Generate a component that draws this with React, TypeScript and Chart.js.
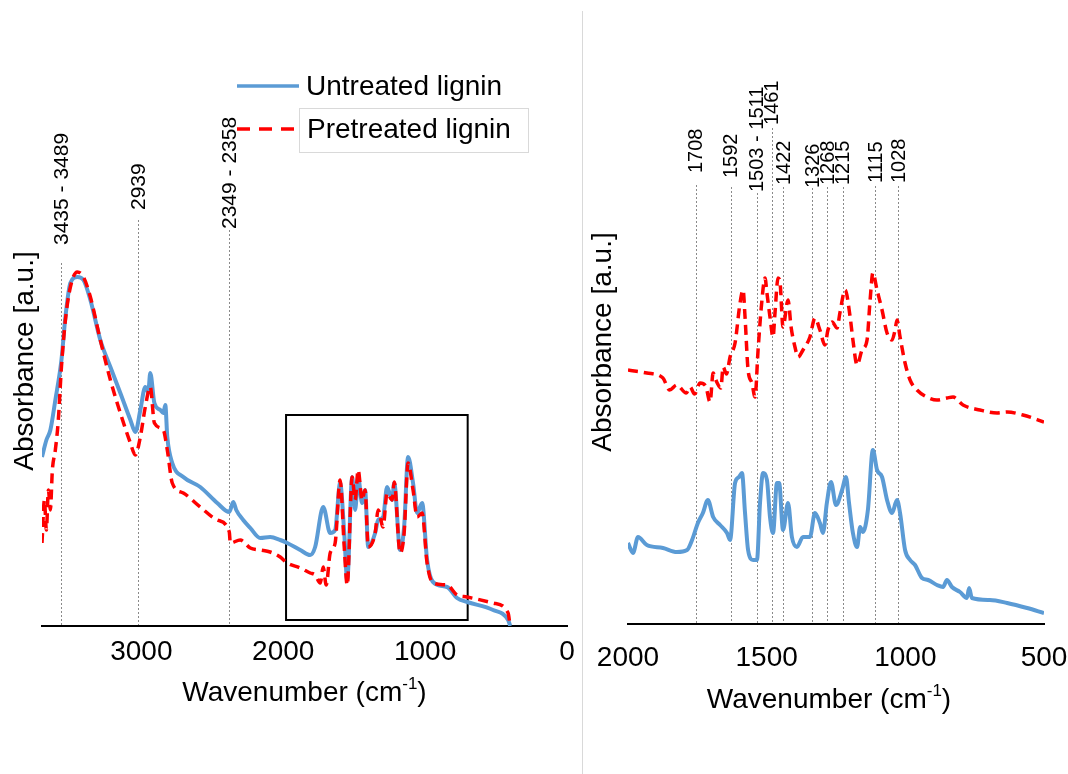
import React, { useEffect, useRef } from "react";
import { Chart, registerables } from "chart.js";

Chart.register(...registerables);

const FONT = '"Liberation Sans", Arial, Helvetica, sans-serif';
const BLUE = "#5B9BD5";
const RED = "#FF0000";

// ---------- data ----------
const seriesNames = ["Untreated lignin", "Pretreated lignin"];
const xTitleMain = "Wavenumber (cm";
const xTitleSup = "-1";
const xTitleEnd = ")";
const yTitle = "Absorbance [a.u.]";

// Left panel (full spectrum)
const fullTicks = [3000, 2000, 1000, 0];
const fullUntreatedWn = [3700, 3669, 3641, 3606, 3563, 3535, 3500, 3451, 3408, 3359, 3289, 3218, 3148, 3077, 3042, 3007, 2972, 2951, 2937, 2908, 2866, 2845, 2831, 2817, 2782, 2704, 2585, 2465, 2380, 2352, 2331, 2282, 2232, 2162, 2092, 2021, 1972, 1880, 1810, 1775, 1718, 1669, 1634, 1599, 1570, 1549, 1514, 1493, 1472, 1444, 1423, 1401, 1352, 1331, 1296, 1268, 1232, 1218, 1176, 1148, 1120, 1085, 1056, 1021, 986, 944, 845, 775, 704, 521, 415, 400];
const fullUntreatedAbs = [1.69, 1.86, 1.96, 2.26, 2.66, 3.09, 3.43, 3.49, 3.46, 3.26, 2.86, 2.59, 2.33, 2.06, 1.94, 2.16, 2.39, 2.34, 2.53, 2.23, 2.16, 2.13, 2.21, 1.89, 1.63, 1.49, 1.39, 1.23, 1.14, 1.24, 1.16, 1.06, 0.98, 0.88, 0.89, 0.86, 0.83, 0.76, 0.71, 0.79, 1.19, 0.93, 0.96, 1.43, 0.93, 0.46, 1.49, 1.16, 1.49, 1.23, 1.36, 0.79, 0.93, 1.06, 1.09, 1.39, 1.26, 1.43, 0.76, 0.99, 1.69, 1.43, 1.13, 1.23, 0.66, 0.44, 0.39, 0.28, 0.24, 0.16, 0.06, 0.0];
const fullPretreatedWn = [3700, 3683, 3669, 3655, 3641, 3627, 3606, 3585, 3563, 3535, 3500, 3451, 3408, 3359, 3289, 3218, 3148, 3077, 3042, 3007, 2972, 2937, 2908, 2845, 2817, 2782, 2704, 2585, 2465, 2380, 2373, 2303, 2232, 2162, 2092, 2021, 1972, 1880, 1810, 1775, 1739, 1718, 1697, 1669, 1634, 1599, 1570, 1549, 1514, 1493, 1472, 1444, 1423, 1401, 1352, 1331, 1296, 1268, 1232, 1218, 1176, 1148, 1120, 1085, 1056, 1021, 986, 944, 845, 775, 704, 521, 415, 401];
const fullPretreatedAbs = [0.83, 1.26, 0.96, 1.36, 1.16, 1.56, 1.76, 2.06, 2.59, 3.06, 3.39, 3.54, 3.49, 3.29, 2.86, 2.46, 2.13, 1.83, 1.71, 1.89, 2.19, 2.39, 2.03, 1.96, 1.76, 1.43, 1.33, 1.19, 1.06, 0.94, 0.83, 0.86, 0.78, 0.76, 0.74, 0.69, 0.63, 0.58, 0.53, 0.51, 0.43, 0.59, 0.41, 0.73, 0.83, 1.46, 0.79, 0.41, 1.49, 1.26, 1.56, 1.26, 1.36, 0.79, 0.93, 1.16, 0.99, 1.33, 1.26, 1.44, 0.73, 0.93, 1.63, 1.36, 1.09, 1.13, 0.63, 0.43, 0.41, 0.31, 0.29, 0.23, 0.13, 0.0];
const fullMarkerWn = [3563, 3021, 2380];
const fullMarkerLabels = ["3435 - 3489", "2939", "2349 - 2358"];
// framed region of the left panel [wnFrom, wnTo, absLow, absHigh]
const fullFrame = [1980, 700, 0.06, 2.11];

// Right panel (fingerprint region)
const zoomTicks = [2000, 1500, 1000, 500];
const zoomUntreatedWn = [2000, 1982, 1964, 1932, 1874, 1824, 1787, 1769, 1748, 1730, 1712, 1693, 1668, 1643, 1632, 1614, 1600, 1589, 1578, 1567, 1549, 1535, 1524, 1513, 1499, 1488, 1477, 1463, 1455, 1441, 1423, 1409, 1391, 1369, 1344, 1326, 1308, 1297, 1283, 1268, 1250, 1228, 1214, 1203, 1189, 1174, 1163, 1153, 1135, 1117, 1102, 1084, 1066, 1048, 1030, 1019, 1001, 983, 965, 940, 918, 886, 864, 850, 832, 803, 778, 770, 760, 695, 633, 561, 500];
const zoomUntreatedAbs = [0.81, 0.71, 0.87, 0.79, 0.76, 0.72, 0.74, 0.84, 1.01, 1.11, 1.24, 1.07, 0.99, 0.91, 0.84, 1.41, 1.47, 1.51, 1.11, 0.74, 0.64, 0.64, 1.21, 1.51, 1.44, 1.07, 0.91, 1.41, 1.41, 0.94, 1.21, 0.87, 0.77, 0.87, 0.87, 1.11, 1.01, 0.91, 1.21, 1.42, 1.19, 1.34, 1.47, 1.21, 0.91, 0.77, 0.97, 0.92, 1.14, 1.74, 1.54, 1.47, 1.24, 1.11, 1.24, 1.11, 0.74, 0.64, 0.59, 0.46, 0.44, 0.39, 0.37, 0.44, 0.37, 0.32, 0.26, 0.36, 0.26, 0.24, 0.21, 0.16, 0.11];
const zoomPretreatedWn = [2000, 1932, 1874, 1850, 1824, 1790, 1776, 1760, 1740, 1720, 1704, 1693, 1680, 1665, 1657, 1645, 1632, 1614, 1596, 1585, 1578, 1567, 1553, 1542, 1531, 1517, 1506, 1499, 1488, 1477, 1470, 1459, 1452, 1441, 1423, 1412, 1398, 1387, 1369, 1344, 1326, 1308, 1290, 1279, 1264, 1246, 1236, 1217, 1199, 1189, 1174, 1156, 1138, 1127, 1117, 1102, 1084, 1066, 1048, 1037, 1030, 1019, 1001, 983, 958, 922, 886, 850, 828, 792, 731, 669, 633, 576, 500];
const zoomPretreatedAbs = [2.54, 2.51, 2.46, 2.34, 2.39, 2.31, 2.37, 2.30, 2.41, 2.38, 2.22, 2.51, 2.42, 2.36, 2.57, 2.50, 2.67, 2.81, 3.21, 3.34, 3.07, 2.54, 2.41, 2.27, 2.74, 3.24, 3.46, 3.31, 3.07, 2.87, 3.11, 3.46, 3.42, 2.97, 3.24, 2.97, 2.77, 2.67, 2.74, 2.87, 3.06, 2.94, 2.79, 2.94, 3.02, 2.96, 3.11, 3.34, 3.07, 2.84, 2.59, 2.74, 2.84, 3.24, 3.51, 3.34, 3.14, 2.91, 2.84, 2.94, 3.04, 2.87, 2.61, 2.44, 2.34, 2.27, 2.24, 2.26, 2.27, 2.19, 2.14, 2.11, 2.12, 2.09, 2.02];
const zoomMarkerWn = [1755, 1629, 1535, 1481, 1441, 1336, 1282, 1225, 1109, 1026];
const zoomMarkerLabels = ["1708", "1592", "1503 - 1511", "1461", "1422", "1326", "1268", "1215", "1115", "1028"];

// ---------- layout / style ----------
type PanelCfg = {
  left: number;
  width: number;
  height: number;
  xMin: number;
  xMax: number;
  ticks: number[];
  yMax: number;
  padTop: number;
  padRight: number;
  yAxisWidth: number;
  yTitlePad: number;
  xAxisHeight: number;
  tickPad: number;
  xTitleY: number;
  xTitleShift: number;
  uWn: number[];
  uAbs: number[];
  pWn: number[];
  pAbs: number[];
  markerWn: number[];
  markerLabels: string[];
  markerLabelBottom: number[];
  markerLineTop: number[];
  markerFont: number;
  frame?: number[];
  legend?: boolean;
};

const toXY = (xs: number[], ys: number[]) => xs.map((x, i) => ({ x, y: ys[i] }));

function overlayPlugin(p: PanelCfg) {
  return {
    id: "overlay" + p.left,
    beforeDatasetsDraw(chart: any) {
      const ctx = chart.ctx as CanvasRenderingContext2D;
      const xs = chart.scales.x;
      const ys = chart.scales.y;
      const area = chart.chartArea;
      ctx.save();
      ctx.strokeStyle = "#8a8a8a";
      ctx.lineWidth = 1;
      ctx.setLineDash([2, 2]);
      p.markerWn.forEach((wn, i) => {
        const x = Math.round(xs.getPixelForValue(wn)) + 0.5;
        ctx.beginPath();
        ctx.moveTo(x, p.markerLineTop[i]);
        ctx.lineTo(x, area.bottom - 1);
        ctx.stroke();
      });
      ctx.setLineDash([]);
      if (p.frame) {
        const x1 = xs.getPixelForValue(p.frame[0]);
        const x2 = xs.getPixelForValue(p.frame[1]);
        const y1 = ys.getPixelForValue(p.frame[3]);
        const y2 = ys.getPixelForValue(p.frame[2]);
        ctx.strokeStyle = "#000";
        ctx.lineWidth = 2;
        ctx.strokeRect(x1, y1, x2 - x1, y2 - y1);
      }
      ctx.restore();
    },
    afterDraw(chart: any) {
      const ctx = chart.ctx as CanvasRenderingContext2D;
      const xs = chart.scales.x;
      const area = chart.chartArea;
      ctx.save();
      ctx.fillStyle = "#000";
      // marker labels (rotated)
      ctx.font = `${p.markerFont}px ${FONT}`;
      ctx.textAlign = "left";
      ctx.textBaseline = "middle";
      p.markerWn.forEach((wn, i) => {
        const x = xs.getPixelForValue(wn);
        ctx.save();
        ctx.translate(x, p.markerLabelBottom[i]);
        ctx.rotate(-Math.PI / 2);
        ctx.fillText(p.markerLabels[i], 0, 1);
        ctx.restore();
      });
      // x axis title with superscript
      const big = `28px ${FONT}`;
      const small = `17px ${FONT}`;
      ctx.font = big;
      const w1 = ctx.measureText(xTitleMain).width;
      const w3 = ctx.measureText(xTitleEnd).width;
      ctx.font = small;
      const w2 = ctx.measureText(xTitleSup).width;
      const total = w1 + w2 + w3;
      let sx = (area.left + area.right) / 2 + p.xTitleShift - total / 2;
      const ty = p.xTitleY;
      ctx.textBaseline = "middle";
      ctx.font = big;
      ctx.fillText(xTitleMain, sx, ty);
      sx += w1;
      ctx.font = small;
      ctx.fillText(xTitleSup, sx, ty - 9);
      sx += w2;
      ctx.font = big;
      ctx.fillText(xTitleEnd, sx, ty);
      // legend
      if (p.legend) {
        ctx.lineWidth = 3.5;
        ctx.strokeStyle = BLUE;
        ctx.beginPath();
        ctx.moveTo(237, 86);
        ctx.lineTo(299, 86);
        ctx.stroke();
        ctx.strokeStyle = RED;
        ctx.setLineDash([13, 9]);
        ctx.beginPath();
        ctx.moveTo(237, 129);
        ctx.lineTo(299, 129);
        ctx.stroke();
        ctx.setLineDash([]);
        ctx.strokeStyle = "#d9d9d9";
        ctx.lineWidth = 1;
        ctx.strokeRect(299.5, 108.5, 229, 44);
        ctx.font = `28px ${FONT}`;
        ctx.fillStyle = "#000";
        ctx.textBaseline = "middle";
        ctx.fillText(seriesNames[0], 306, 87);
        ctx.fillText(seriesNames[1], 307, 130);
      }
      ctx.restore();
    },
  };
}

function makeConfig(p: PanelCfg): any {
  return {
    type: "line",
    data: {
      datasets: [
        {
          label: seriesNames[0],
          data: toXY(p.uWn, p.uAbs),
          borderColor: BLUE,
          backgroundColor: BLUE,
          borderWidth: 4,
          pointRadius: 0,
          cubicInterpolationMode: "monotone",
          order: 2,
        },
        {
          label: seriesNames[1],
          data: toXY(p.pWn, p.pAbs),
          borderColor: RED,
          backgroundColor: RED,
          borderWidth: 3.5,
          borderDash: [10, 6],
          pointRadius: 0,
          cubicInterpolationMode: "monotone",
          order: 1,
        },
      ],
    },
    options: {
      responsive: false,
      animation: false,
      events: [],
      layout: { padding: { left: 0, right: p.padRight, top: p.padTop, bottom: 0 } },
      plugins: { legend: { display: false }, tooltip: { enabled: false }, title: { display: false } },
      scales: {
        x: {
          type: "linear",
          reverse: true,
          min: p.xMin,
          max: p.xMax,
          grid: { display: false, drawTicks: false },
          border: { display: true, color: "#000", width: 2 },
          ticks: {
            font: { family: FONT, size: 28 },
            color: "#000",
            padding: p.tickPad,
            maxRotation: 0,
            autoSkip: false,
            includeBounds: false,
            callback: (v: any) => String(v),
          },
          afterBuildTicks: (s: any) => {
            s.ticks = p.ticks.map((v) => ({ value: v }));
          },
          afterFit: (s: any) => {
            s.height = p.xAxisHeight;
            s.paddingLeft = 0;
            s.paddingRight = 0;
          },
        },
        y: {
          min: 0,
          max: p.yMax,
          grid: { display: false },
          border: { display: false },
          ticks: { display: false },
          title: {
            display: true,
            text: yTitle,
            font: { family: FONT, size: 28 },
            color: "#000",
            padding: { top: p.yTitlePad, bottom: 0 },
          },
          afterFit: (s: any) => {
            s.width = p.yAxisWidth;
            s.paddingTop = 0;
            s.paddingBottom = 0;
          },
        },
      },
    },
    plugins: [overlayPlugin(p)],
  };
}

const leftPanel: PanelCfg = {
  left: 0,
  width: 580,
  height: 774,
  xMin: 0,
  xMax: 3700,
  ticks: fullTicks,
  yMax: 5.3,
  padTop: 96,
  padRight: 13,
  yAxisWidth: 42,
  yTitlePad: 8,
  xAxisHeight: 148,
  tickPad: 9,
  xTitleY: 693,
  xTitleShift: 0,
  uWn: fullUntreatedWn,
  uAbs: fullUntreatedAbs,
  pWn: fullPretreatedWn,
  pAbs: fullPretreatedAbs,
  markerWn: fullMarkerWn,
  markerLabels: fullMarkerLabels,
  markerLabelBottom: [245, 210, 229],
  markerLineTop: [263, 220, 230],
  markerFont: 21,
  frame: fullFrame,
  legend: true,
};

const rightPanel: PanelCfg = {
  left: 583,
  width: 485,
  height: 774,
  xMin: 500,
  xMax: 2000,
  ticks: zoomTicks,
  yMax: 5.64,
  padTop: 60,
  padRight: 24,
  yAxisWidth: 45,
  yTitlePad: 3,
  xAxisHeight: 150,
  tickPad: 17,
  xTitleY: 700,
  xTitleShift: -7,
  uWn: zoomUntreatedWn,
  uAbs: zoomUntreatedAbs,
  pWn: zoomPretreatedWn,
  pAbs: zoomPretreatedAbs,
  markerWn: zoomMarkerWn,
  markerLabels: zoomMarkerLabels,
  markerLabelBottom: [173, 178, 192, 125, 185, 188, 185, 185, 183, 183],
  markerLineTop: [185, 187, 193, 128, 187, 188, 187, 187, 186, 186],
  markerFont: 20,
};

function Panel({ cfg }: { cfg: PanelCfg }) {
  const ref = useRef<HTMLCanvasElement | null>(null);
  useEffect(() => {
    if (!ref.current) return;
    const chart = new Chart(ref.current, makeConfig(cfg));
    return () => chart.destroy();
  }, [cfg]);
  return (
    <canvas
      ref={ref}
      width={cfg.width}
      height={cfg.height}
      style={{ position: "absolute", left: cfg.left, top: 0, width: cfg.width, height: cfg.height }}
    />
  );
}

export default function App() {
  return (
    <div style={{ position: "absolute", left: 0, top: 0, width: 1068, height: 774, background: "#fff", overflow: "hidden" }}>
      <Panel cfg={leftPanel} />
      <div style={{ position: "absolute", left: 582, top: 11, width: 1, height: 763, background: "#d9d9d9" }} />
      <Panel cfg={rightPanel} />
    </div>
  );
}
